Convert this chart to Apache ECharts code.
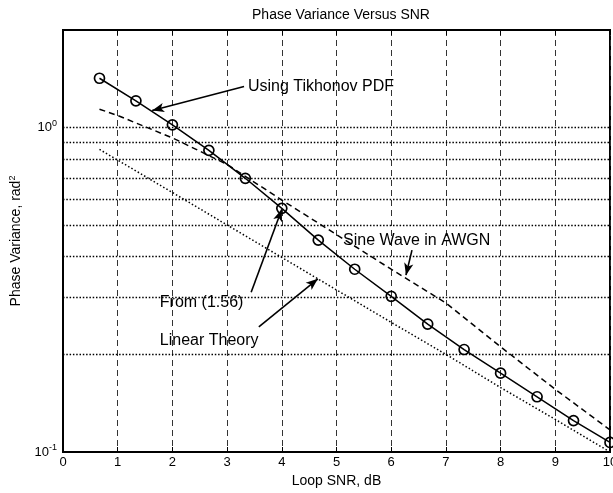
<!DOCTYPE html>
<html><head><meta charset="utf-8">
<script src="https://cdn.jsdelivr.net/npm/echarts@6/dist/echarts.min.js"></script>
<style>html,body{margin:0;padding:0;background:#fff}#c{width:613px;height:493px}</style>
</head><body><div id="c"></div>
<script>
// ---- data ----
const xTikhonov = [0.667,1.333,2,2.667,3.333,4,4.667,5.333,6,6.667,7.333,8,8.667,9.333,10];
const yTikhonov = [1.42,1.21,1.02,0.851,0.698,0.564,0.45,0.366,0.302,0.248,0.207,0.175,0.148,0.125,0.107];
const xAwgn = [0.667,1,2,3,4,5,6,7,8,9,10];
const yAwgn = [1.14,1.09,0.93,0.77,0.598,0.468,0.366,0.288,0.211,0.156,0.117];
const xLinear = [0.667,1,2,3,4,5,6,7,8,9,10];
const yLinear = [0.857,0.794,0.631,0.501,0.398,0.316,0.251,0.2,0.158,0.126,0.1];
const hGridValues = [0.2,0.3,0.4,0.5,0.6,0.7,0.8,0.9,1];
const titleText = 'Phase Variance Versus SNR';
const xName = 'Loop SNR, dB';
const yNameMain = 'Phase Variance, rad';
const yNameSup = '2';
const noteTexts = ['Using Tikhonov PDF','Sine Wave in AWGN','From (1.56)','Linear Theory'];
const noteAt = [[3.38,1.34],[5.12,0.45],[1.77,0.288],[1.77,0.221]];
const arrowFrom = [[3.31,1.34],[6.38,0.419],[3.44,0.311],[3.58,0.243]];
const arrowTo = [[1.63,1.13],[6.27,0.351],[4.0,0.56],[4.66,0.342]];

const FONT = '"Liberation Sans", Arial, Helvetica, sans-serif';
const zip = (xs, ys) => xs.map((x, i) => [x, ys[i]]);

const chart = echarts.init(document.getElementById('c'), null, {renderer: 'canvas'});
chart.setOption({
  animation: false,
  backgroundColor: '#fff',
  textStyle: {fontFamily: FONT},
  title: {
    text: titleText, left: 336, top: 3, textAlign: 'center',
    textStyle: {fontFamily: FONT, fontSize: 14, fontWeight: 'normal', color: '#000'}
  },
  grid: {left: 63, right: 3, top: 30, bottom: 41, show: true, borderColor: '#000', borderWidth: 2,
    backgroundColor: 'transparent', containLabel: false, outerBoundsMode: 'none'},
  xAxis: [{
    type: 'value', min: 0, max: 10, interval: 1,
    name: xName, nameLocation: 'middle', nameGap: 17,
    nameTextStyle: {fontFamily: FONT, fontSize: 14, color: '#000'},
    axisLine: {lineStyle: {color: '#000', width: 2}},
    axisTick: {inside: true, length: 5, lineStyle: {color: '#000'}},
    axisLabel: {fontFamily: FONT, fontSize: 13, color: '#000', margin: 4, hideOverlap: false},
    splitLine: {show: true, lineStyle: {color: '#333', width: 1, type: [6, 4]}}
  }, {
    type: 'value', min: 0, max: 10, interval: 1, position: 'top',
    axisLine: {lineStyle: {color: '#000', width: 2}},
    axisTick: {inside: true, length: 5, lineStyle: {color: '#000'}},
    axisLabel: {show: false}, splitLine: {show: false}
  }],
  yAxis: [{
    type: 'log', logBase: 10, min: 0.1, max: 2,
    name: yNameMain + '{s|' + yNameSup + '}', nameLocation: 'middle', nameGap: 32, nameRotate: 90,
    nameTextStyle: {fontFamily: FONT, fontSize: 14, color: '#000',
      rich: {s: {fontFamily: FONT, fontSize: 9, color: '#000', verticalAlign: 'bottom', padding: [0, 0, 8, 0]}}},
    axisLine: {lineStyle: {color: '#000', width: 2}},
    axisTick: {show: false},
    splitLine: {show: false},
    axisLabel: {
      fontFamily: FONT, fontSize: 13, color: '#000', margin: 6,
      formatter: function (v) {
        const e = Math.round(Math.log10(v));
        if (Math.abs(Math.log10(v) - e) > 1e-6) return '';
        return '{b|10}{s|' + e + '}';
      },
      rich: {
        b: {fontFamily: FONT, fontSize: 13, color: '#000'},
        s: {fontFamily: FONT, fontSize: 9, color: '#000', verticalAlign: 'bottom', padding: [0, 0, 8, 0]}
      }
    }
  }],
  series: [
    {
      type: 'line', data: [], z: 1, silent: true,
      markLine: {
        silent: true, symbol: ['none', 'none'], animation: false,
        label: {show: false},
        lineStyle: {color: '#000', width: 1.3, type: [1.5, 1.8]},
        emphasis: {disabled: true},
        data: hGridValues.map(v => ({yAxis: v}))
      }
    },
    {
      name: 'Linear', type: 'line', z: 3, data: zip(xLinear, yLinear), symbol: 'none',
      lineStyle: {color: '#000', width: 1.5, type: [1.5, 2.2]}
    },
    {
      name: 'AWGN', type: 'line', z: 3, data: zip(xAwgn, yAwgn), symbol: 'none',
      lineStyle: {color: '#000', width: 1.5, type: [6, 4]}
    },
    {
      name: 'Tikhonov', type: 'line', z: 4, data: zip(xTikhonov, yTikhonov),
      symbol: 'circle', symbolSize: 10,
      itemStyle: {color: 'rgba(0,0,0,0)', borderColor: '#000', borderWidth: 1.7},
      lineStyle: {color: '#000', width: 1.5},
      markLine: {
        silent: true, animation: false, symbol: ['none', 'arrow'], symbolSize: [7, 12],
        label: {show: false},
        lineStyle: {color: '#000', width: 1.6, type: 'solid'},
        itemStyle: {color: '#000'},
        emphasis: {disabled: true},
        data: arrowFrom.map((f, i) => [{coord: f}, {coord: arrowTo[i]}])
      },
      markPoint: {
        silent: true, animation: false, symbol: 'circle', symbolSize: 0,
        itemStyle: {color: 'transparent'},
        data: noteTexts.map((t, i) => ({
          coord: noteAt[i], value: t,
          label: {show: true, position: 'right', distance: 0, formatter: t,
            fontFamily: FONT, fontSize: 16, color: '#000'}
        }))
      }
    }
  ]
});
</script></body></html>
